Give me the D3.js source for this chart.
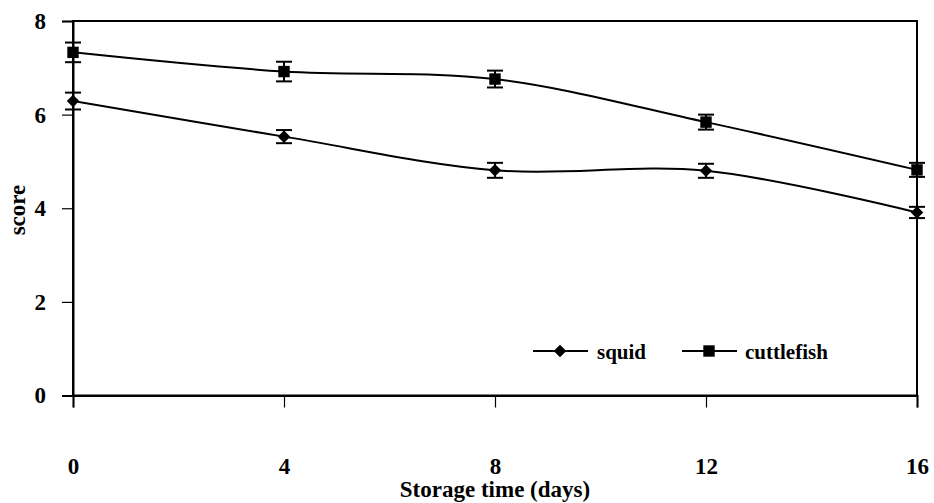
<!DOCTYPE html>
<html><head><meta charset="utf-8">
<script src="https://cdn.jsdelivr.net/npm/d3@7"></script>
<style>
html,body{margin:0;padding:0;background:#fff;}
svg text{font-family:"Liberation Serif","Times New Roman",Times,serif !important;font-weight:bold;fill:#000;}
</style></head>
<body>
<svg id="chart" width="934" height="503"></svg>
<script>
const days = [0, 4, 8, 12, 16];
const squid = [6.29, 5.53, 4.81, 4.80, 3.91];
const squidErr = [0.18, 0.14, 0.16, 0.15, 0.12];
const cuttlefish = [7.33, 6.92, 6.76, 5.84, 4.82];
const cuttlefishErr = [0.21, 0.21, 0.18, 0.16, 0.15];
const yTicks = [0, 2, 4, 6, 8];
const seriesNames = ["squid", "cuttlefish"];

const FONT = '"Liberation Serif","Times New Roman",Times,serif';
const svg = d3.select("#chart");
const L = 73, R = 917, T = 21, B = 395.5;
const x = d3.scaleLinear().domain([0, 16]).range([L, R]);
const y = d3.scaleLinear().domain([0, 8]).range([B, T]);

// frame
svg.append("rect").attr("x", L).attr("y", T).attr("width", R - L).attr("height", B - T)
  .attr("fill", "none").attr("stroke", "#000").attr("stroke-width", 2);

// y axis
const ya = svg.append("g").attr("transform", `translate(${L},0)`)
  .call(d3.axisLeft(y).tickValues(yTicks).tickSize(11).tickPadding(16).tickFormat(d3.format("d")));
ya.attr("font-family", FONT);
ya.select(".domain").attr("stroke-width", 2);
ya.selectAll(".tick line").attr("stroke-width", 1.2);
ya.selectAll(".tick text").attr("font-size", 23).style("font-family", FONT).attr("font-weight", "bold").attr("fill", "#000");

// x axis
const xa = svg.append("g").attr("transform", `translate(0,${B})`)
  .call(d3.axisBottom(x).tickValues(days).tickSize(12).tickPadding(0).tickFormat(d3.format("d")));
xa.attr("font-family", FONT);
xa.select(".domain").attr("stroke-width", 2);
xa.selectAll(".tick line").attr("stroke-width", 1.2);
xa.selectAll(".tick text").attr("font-size", 23).style("font-family", FONT).attr("font-weight", "bold").attr("fill", "#000")
  .attr("dy", null).attr("y", 474 - B);

// axis titles
svg.append("text").attr("x", (L + R) / 2).attr("y", 497).attr("text-anchor", "middle")
  .style("font-family", FONT).attr("font-size", 23).text("Storage time (days)");
svg.append("text").attr("transform", "translate(25,210) rotate(-90)").attr("text-anchor", "middle")
  .style("font-family", FONT).attr("font-size", 23).text("score");

const line = d3.line().x((d, i) => x(days[i])).y(d => y(d)).curve(d3.curveCatmullRom.alpha(0.5));
const diamond = d3.symbol().type(d3.symbolDiamond2).size(100);
const square = d3.symbol().type(d3.symbolSquare).size(130);

function drawSeries(vals, errs, sym) {
  const g = svg.append("g");
  g.append("path").attr("d", line(vals)).attr("fill", "none").attr("stroke", "#000").attr("stroke-width", 2);
  vals.forEach((v, i) => {
    const cx = x(days[i]);
    g.append("line").attr("x1", cx).attr("x2", cx).attr("y1", y(v - errs[i])).attr("y2", y(v + errs[i]))
      .attr("stroke", "#000").attr("stroke-width", 2);
    [v - errs[i], v + errs[i]].forEach(e => {
      g.append("line").attr("x1", cx - 8).attr("x2", cx + 8).attr("y1", y(e)).attr("y2", y(e))
        .attr("stroke", "#000").attr("stroke-width", 2);
    });
    g.append("path").attr("d", sym).attr("transform", `translate(${cx},${y(v)})`).attr("fill", "#000");
  });
}
drawSeries(squid, squidErr, diamond());
drawSeries(cuttlefish, cuttlefishErr, square());

// legend
const legend = [
  {name: seriesNames[0], x0: 533, sym: diamond(), tx: 597},
  {name: seriesNames[1], x0: 682, sym: square(), tx: 745}
];
const ly = 351;
legend.forEach(l => {
  svg.append("line").attr("x1", l.x0).attr("x2", l.x0 + 55).attr("y1", ly).attr("y2", ly)
    .attr("stroke", "#000").attr("stroke-width", 2);
  svg.append("path").attr("d", l.sym).attr("transform", `translate(${l.x0 + 27},${ly})`).attr("fill", "#000");
  svg.append("text").attr("x", l.tx).attr("y", ly + 8).style("font-family", FONT).attr("font-size", 21).text(l.name);
});
</script>
</body></html>
